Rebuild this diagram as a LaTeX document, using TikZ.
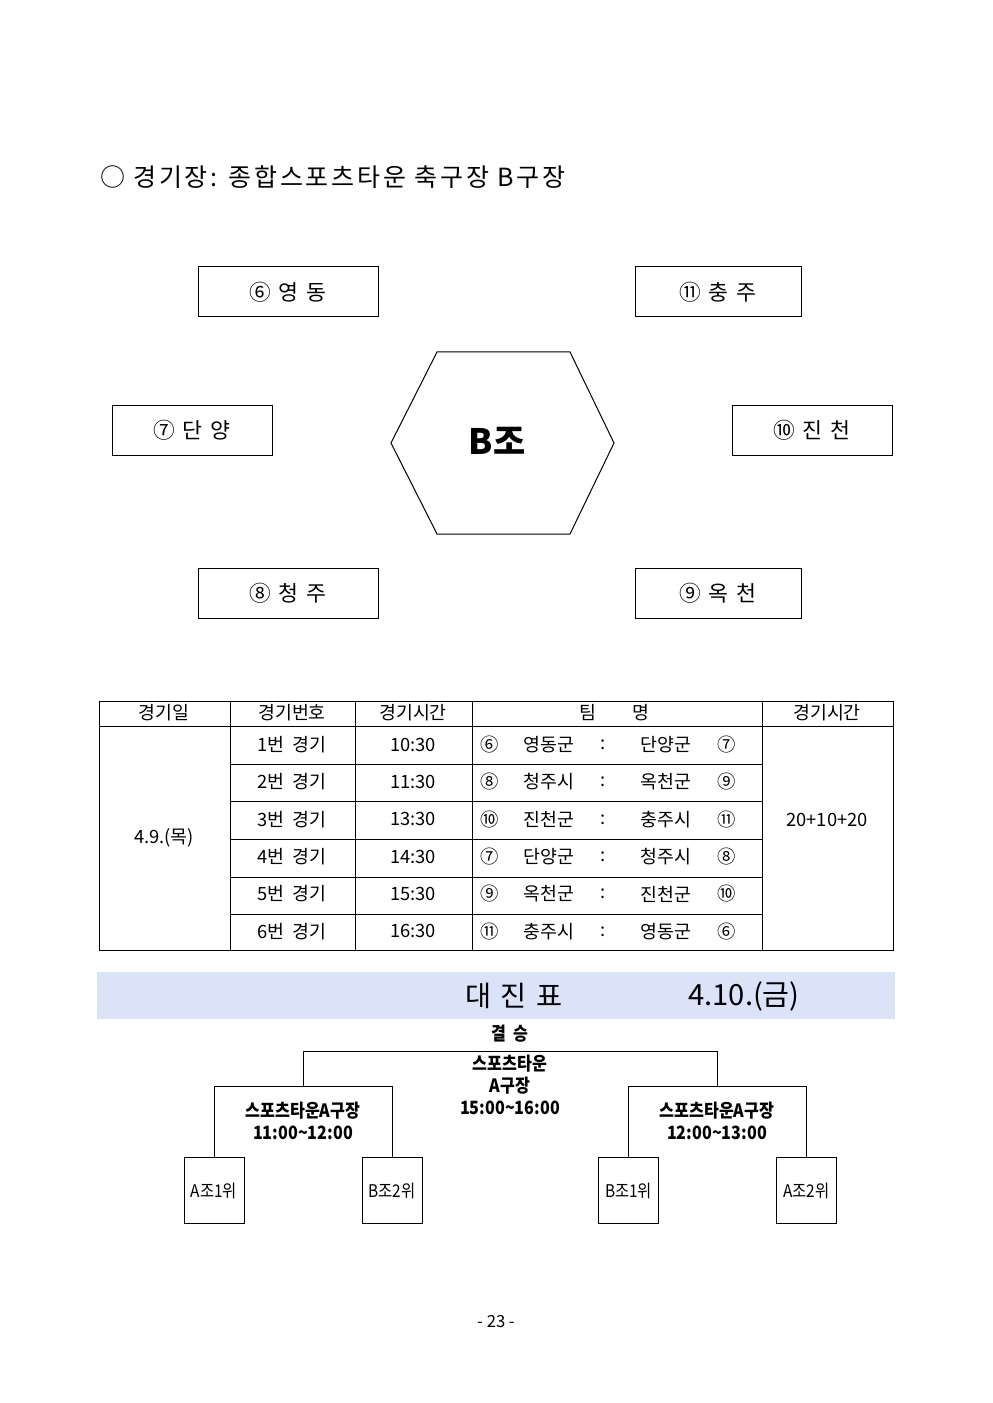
\documentclass[tikz,border=0pt]{standalone}
\usepackage{fontspec}
\setmainfont{Noto Sans CJK KR}
\usepackage{tikz}
\usetikzlibrary{positioning}
\usepackage{xcolor}
\definecolor{bannerblue}{RGB}{219,227,248}
\newcommand{\narrow}[1]{\scalebox{0.88}[1]{#1}}

\begin{document}
\begin{tikzpicture}[x=0.6pt, y=-0.6pt, line width=0.6pt,
    teambox/.style={draw, minimum height=30pt, font=\fontsize{13}{15}\selectfont\addfontfeature{LetterSpace=12}},
    cell/.style={font=\fontsize{11}{13}\selectfont},
    seed/.style={draw, minimum width=36pt, minimum height=40pt, inner sep=0pt, font=\fontsize{10.5}{12}\selectfont},
    game/.style={align=center, font=\bfseries\fontsize{11}{13.2}\selectfont}]
\useasboundingbox (0,0) rectangle (992,1403);

% 제목
\node[anchor=west, font=\fontsize{15}{17}\selectfont\addfontfeature{LetterSpace=11}] (title) at (94,177) {○ 경기장: 종합스포츠타운 축구장 B구장};

% 조 편성
\node[font=\bfseries\fontsize{21}{24}\selectfont] (group) at (497,441) {B조};
\draw (391,443) -- (437,352) -- (570,352) -- (614,443) -- (570,534) -- (437,534) -- cycle;
\node[teambox, minimum width=108pt] (yd) at (288,292) {⑥ 영 동};
\node[teambox, minimum width=99.6pt] (cj) at (718,292) {⑪ 충 주};
\node[teambox, minimum width=96pt] (dy) at (192,430) {⑦ 단 양};
\node[teambox, minimum width=96pt] (jc) at (812,430) {⑩ 진 천};
\node[teambox, minimum width=108pt] (cjs) at (288,593.5) {⑧ 청 주};
\node[teambox, minimum width=99.6pt] (oc) at (718,593.5) {⑨ 옥 천};

% 경기 일정표
\draw (99,701) rectangle (893,950);
\draw (99,726) -- (893,726);
\foreach \xx in {230,355,472,762} \draw (\xx,701) -- (\xx,950);
\foreach \yy in {764,801,839,877,914} \draw (230,\yy) -- (762,\yy);
\node[cell] (h-day) at (164,713) {경기일};
\node[cell] (h-no) at (292,713) {경기번호};
\node[cell] (h-time) at (413,713) {경기시간};
\node[cell] (h-team) at (588,713) {팀};
\node[cell] (h-name) at (641,713) {명};
\node[cell] (h-len) at (827,713) {경기시간};
\node[cell] (day) at (164,838) {4.9.(목)};
\node[cell] (len) at (827,820) {20+10+20};
\foreach \n/\t/\sa/\ta/\tb/\sb [count=\i] in {
    1/10:30/⑥/영동군/단양군/⑦,
    2/11:30/⑧/청주시/옥천군/⑨,
    3/13:30/⑩/진천군/충주시/⑪,
    4/14:30/⑦/단양군/청주시/⑧,
    5/15:30/⑨/옥천군/진천군/⑩,
    6/16:30/⑪/충주시/영동군/⑥}{
  \pgfmathsetmacro\yy{726+(\i-0.5)*37.33}
  \node[cell] (no\i) at (292,\yy) {\n 번\ \ 경기};
  \node[cell] (time\i) at (413,\yy) {\t};
  \node[cell] (sa\i) at (490,\yy) {\sa};
  \node[cell] (ta\i) at (549,\yy) {\ta};
  \node[cell] (vs\i) at (603,\yy) {:};
  \node[cell] (tb\i) at (666,\yy) {\tb};
  \node[cell] (sb\i) at (727,\yy) {\sb};
}

% 대진표
\fill[bannerblue] (97,972) rectangle (895,1019);
\node[font=\fontsize{17}{19}\selectfont\addfontfeature{LetterSpace=10}] (banner) at (514,996) {대 진 표};
\node[font=\fontsize{17.5}{19}\selectfont] (bdate) at (744,996) {4.10.(금)};

\node[game] (final) at (510,1034) {\narrow{결\ \ 승}};
\node[game] at (510,1085) {\narrow{스포츠타운}\\\narrow{A구장}\\\narrow{15:00\textasciitilde16:00}};
\node[game] at (303,1121) {\narrow{스포츠타운A구장}\\\narrow{11:00\textasciitilde12:00}};
\node[game] at (717,1121) {\narrow{스포츠타운A구장}\\\narrow{12:00\textasciitilde13:00}};
\coordinate (top) at (510,1051);
\coordinate (semi1) at (303,1086);
\coordinate (semi2) at (717,1086);
\node[seed] (a1) at (214,1190.5) {\narrow{A조1위}};
\node[seed] (b2) at (392,1190.5) {\narrow{B조2위}};
\node[seed] (b1) at (628.5,1190.5) {\narrow{B조1위}};
\node[seed] (a2) at (806.5,1190.5) {\narrow{A조2위}};
\draw (a1.north) |- (semi1) -| (b2.north);
\draw (b1.north) |- (semi2) -| (a2.north);
\draw (semi1) |- (top) -| (semi2);

% 쪽 번호
\node[font=\fontsize{10}{12}\selectfont] (page) at (496,1322) {- 23 -};
\end{tikzpicture}
\end{document}
